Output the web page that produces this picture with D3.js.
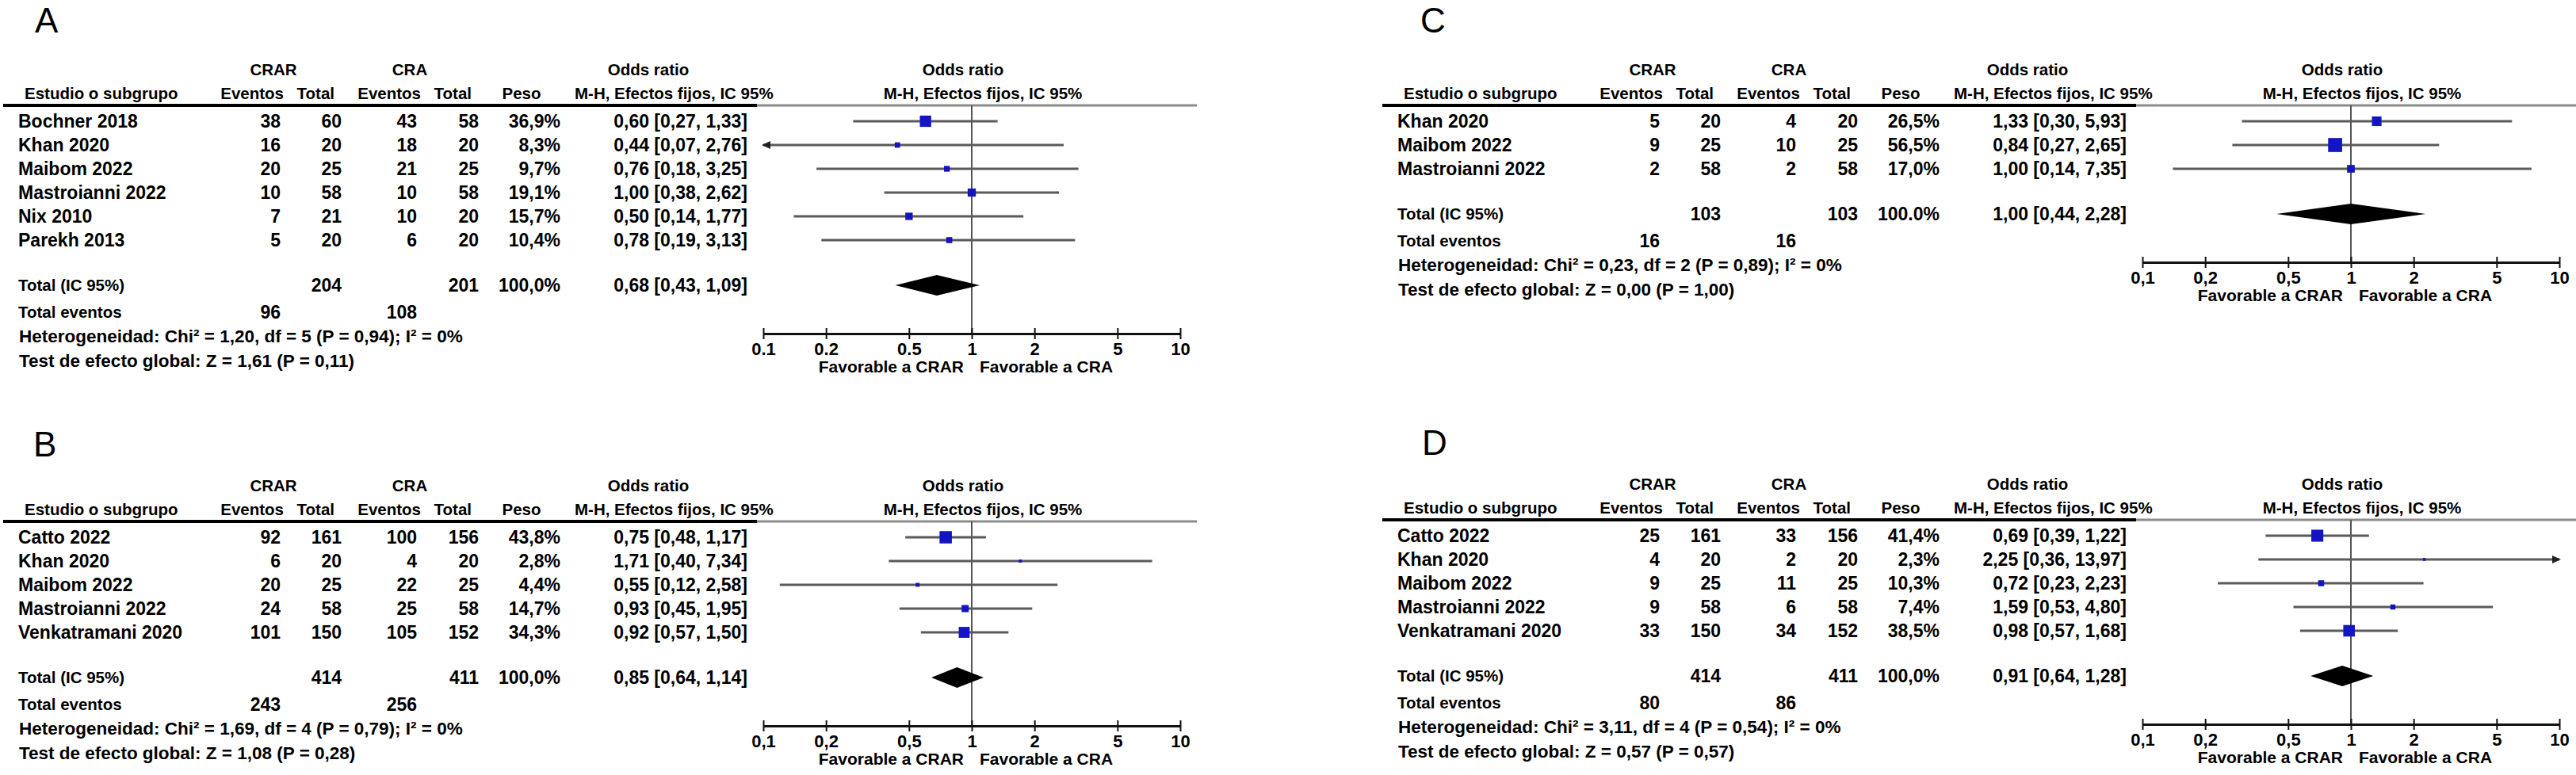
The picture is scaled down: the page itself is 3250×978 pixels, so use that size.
<!DOCTYPE html>
<html>
<head>
<meta charset="utf-8">
<title>Forest plots CRAR vs CRA</title>
<script src="https://cdn.jsdelivr.net/npm/d3@7"></script>
<style>
  body { margin: 0; background: #fff; }
  svg text { font-family: "Liberation Sans", Arial, sans-serif; font-weight: bold; fill: #000; }
</style>
</head>
<body>
<script>
// shared axis
var tickValues = [0.1, 0.2, 0.5, 1, 2, 5, 10];
var tickLabelsDot = ["0.1", "0.2", "0.5", "1", "2", "5", "10"];
var tickLabelsComma = ["0,1", "0,2", "0,5", "1", "2", "5", "10"];

// A
var studiesA = ["Bochner 2018", "Khan 2020", "Maibom 2022", "Mastroianni 2022", "Nix 2010", "Parekh 2013"];
var crarEvA = [38, 16, 20, 10, 7, 5];
var crarTotA = [60, 20, 25, 58, 21, 20];
var craEvA = [43, 18, 21, 10, 10, 6];
var craTotA = [58, 20, 25, 58, 20, 20];
var pesoA = [36.9, 8.3, 9.7, 19.1, 15.7, 10.4];
var orA = [0.60, 0.44, 0.76, 1.00, 0.50, 0.78];
var loA = [0.27, 0.07, 0.18, 0.38, 0.14, 0.19];
var hiA = [1.33, 2.76, 3.25, 2.62, 1.77, 3.13];
var totalsA = [204, 201];
var totEvA = [96, 108];
var pooledA = [0.68, 0.43, 1.09];
var hetA = "Heterogeneidad: Chi² = 1,20, df = 5 (P = 0,94); I² = 0%";
var testA = "Test de efecto global: Z = 1,61 (P = 0,11)";

// B
var studiesB = ["Catto 2022", "Khan 2020", "Maibom 2022", "Mastroianni 2022", "Venkatramani 2020"];
var crarEvB = [92, 6, 20, 24, 101];
var crarTotB = [161, 20, 25, 58, 150];
var craEvB = [100, 4, 22, 25, 105];
var craTotB = [156, 20, 25, 58, 152];
var pesoB = [43.8, 2.8, 4.4, 14.7, 34.3];
var orB = [0.75, 1.71, 0.55, 0.93, 0.92];
var loB = [0.48, 0.40, 0.12, 0.45, 0.57];
var hiB = [1.17, 7.34, 2.58, 1.95, 1.50];
var totalsB = [414, 411];
var totEvB = [243, 256];
var pooledB = [0.85, 0.64, 1.14];
var hetB = "Heterogeneidad: Chi² = 1,69, df = 4 (P = 0,79); I² = 0%";
var testB = "Test de efecto global: Z = 1,08 (P = 0,28)";

// C
var studiesC = ["Khan 2020", "Maibom 2022", "Mastroianni 2022"];
var crarEvC = [5, 9, 2];
var crarTotC = [20, 25, 58];
var craEvC = [4, 10, 2];
var craTotC = [20, 25, 58];
var pesoC = [26.5, 56.5, 17.0];
var orC = [1.33, 0.84, 1.00];
var loC = [0.30, 0.27, 0.14];
var hiC = [5.93, 2.65, 7.35];
var totalsC = [103, 103];
var totEvC = [16, 16];
var pooledC = [1.00, 0.44, 2.28];
var hetC = "Heterogeneidad:  Chi² = 0,23, df = 2 (P = 0,89); I² = 0%";
var testC = "Test de efecto global:  Z = 0,00 (P = 1,00)";

// D
var studiesD = ["Catto 2022", "Khan 2020", "Maibom 2022", "Mastroianni 2022", "Venkatramani 2020"];
var crarEvD = [25, 4, 9, 9, 33];
var crarTotD = [161, 20, 25, 58, 150];
var craEvD = [33, 2, 11, 6, 34];
var craTotD = [156, 20, 25, 58, 152];
var pesoD = [41.4, 2.3, 10.3, 7.4, 38.5];
var orD = [0.69, 2.25, 0.72, 1.59, 0.98];
var loD = [0.39, 0.36, 0.23, 0.53, 0.57];
var hiD = [1.22, 13.97, 2.23, 4.80, 1.68];
var totalsD = [414, 411];
var totEvD = [80, 86];
var pooledD = [0.91, 0.64, 1.28];
var hetD = "Heterogeneidad: Chi² = 3,11, df = 4 (P = 0,54); I² = 0%";
var testD = "Test de efecto global:  Z = 0,57 (P = 0,57)";

var width = 3250, height = 978;

var svg = d3.select("body").append("svg")
    .attr("width", width).attr("height", height);
svg.append("rect").attr("width", width).attr("height", height).attr("fill", "#fff");

var f2 = function(v){ return d3.format(".2f")(v).replace(".", ","); };
var f1 = function(v){ return d3.format(".1f")(v).replace(".", ","); };
var ci = function(o, l, h){ return f2(o) + " [" + f2(l) + ", " + f2(h) + "]"; };

var panels = [
    {id: "A", studies: studiesA, crarEv: crarEvA, crarTot: crarTotA, craEv: craEvA, craTot: craTotA,
     peso: pesoA, or: orA, lo: loA, hi: hiA, totals: totalsA, totEv: totEvA, pooled: pooledA,
     het: hetA, test: testA, ticks: tickLabelsDot, totPeso: "100,0%",
     ox: 0, hy: 133, lx: 44, ly: 41},
    {id: "B", studies: studiesB, crarEv: crarEvB, crarTot: crarTotB, craEv: craEvB, craTot: craTotB,
     peso: pesoB, or: orB, lo: loB, hi: hiB, totals: totalsB, totEv: totEvB, pooled: pooledB,
     het: hetB, test: testB, ticks: tickLabelsComma, totPeso: "100,0%",
     ox: 0, hy: 658, lx: 42, ly: 576},
    {id: "C", studies: studiesC, crarEv: crarEvC, crarTot: crarTotC, craEv: craEvC, craTot: craTotC,
     peso: pesoC, or: orC, lo: loC, hi: hiC, totals: totalsC, totEv: totEvC, pooled: pooledC,
     het: hetC, test: testC, ticks: tickLabelsComma, totPeso: "100.0%",
     ox: 1740, hy: 133, lx: 1792, ly: 41},
    {id: "D", studies: studiesD, crarEv: crarEvD, crarTot: crarTotD, craEv: craEvD, craTot: craTotD,
     peso: pesoD, or: orD, lo: loD, hi: hiD, totals: totalsD, totEv: totEvD, pooled: pooledD,
     het: hetD, test: testD, ticks: tickLabelsComma, totPeso: "100,0%",
     ox: 1740, hy: 656, lx: 1794, ly: 574}
];

panels.forEach(drawPanel);

function txt(g, x, y, s, anchor, size){
    return g.append("text")
        .attr("x", x).attr("y", y)
        .attr("dy", "0.35em")
        .attr("text-anchor", anchor || "start")
        .style("font-size", (size || 23) + "px")
        .text(s);
}

function drawPanel(p){
    // panel letter
    svg.append("text")
        .attr("x", p.lx).attr("y", p.ly)
        .style("font-weight", "normal")
        .style("font-size", "44px")
        .text(p.id);

    var g = svg.append("g").attr("transform", "translate(" + p.ox + "," + p.hy + ")");
    var x = d3.scaleLog().domain([0.1, 10]).range([963, 1489]);
    var n = p.studies.length;
    var rowY = function(i){ return 20 + i * 30; };
    var yTot = rowY(n - 1) + 57;
    var yAxis = yTot + 61;

    // headers
    txt(g, 345, -45, "CRAR", "middle", 20.5);
    txt(g, 517, -45, "CRA", "middle", 20.5);
    txt(g, 818, -45, "Odds ratio", "middle", 20.5);
    txt(g, 1215, -45, "Odds ratio", "middle", 20.5);
    txt(g, 31, -15, "Estudio o subgrupo", "start", 20.5);
    txt(g, 358, -15, "Eventos", "end", 20.5);
    txt(g, 422, -15, "Total", "end", 20.5);
    txt(g, 531, -15, "Eventos", "end", 20.5);
    txt(g, 595, -15, "Total", "end", 20.5);
    txt(g, 658, -15, "Peso", "middle", 20.5);
    txt(g, 725, -15, "M-H, Efectos fijos, IC 95%", "start", 20.5);
    txt(g, 1240, -15, "M-H, Efectos fijos, IC 95%", "middle", 20.5);

    g.append("line").attr("x1", 4).attr("x2", 955).attr("y1", 0).attr("y2", 0)
        .attr("stroke", "#000").attr("stroke-width", 4);
    g.append("line").attr("x1", 955).attr("x2", 1510).attr("y1", 0).attr("y2", 0)
        .attr("stroke", "#8c8c8c").attr("stroke-width", 3);

    // line of no effect
    g.append("line").attr("x1", x(1)).attr("x2", x(1)).attr("y1", 0).attr("y2", yAxis)
        .attr("stroke", "#555").attr("stroke-width", 2);

    // study rows
    p.studies.forEach(function(s, i){
        var y = rowY(i);
        txt(g, 23, y, s);
        txt(g, 354, y, p.crarEv[i], "end");
        txt(g, 431, y, p.crarTot[i], "end");
        txt(g, 526, y, p.craEv[i], "end");
        txt(g, 604, y, p.craTot[i], "end");
        txt(g, 707, y, f1(p.peso[i]) + "%", "end");
        txt(g, 943, y, ci(p.or[i], p.lo[i], p.hi[i]), "end");

        var lo = Math.max(p.lo[i], 0.1), hi = Math.min(p.hi[i], 10);
        g.append("line").attr("x1", x(lo)).attr("x2", x(hi)).attr("y1", y).attr("y2", y)
            .attr("stroke", "#5a5a5a").attr("stroke-width", 3);
        if (p.lo[i] < 0.1) {
            g.append("path").attr("d", d3.line()([[x(0.1) - 2, y], [x(0.1) + 9, y - 5], [x(0.1) + 9, y + 5]]) + "Z")
                .attr("fill", "#222");
        }
        if (p.hi[i] > 10) {
            g.append("path").attr("d", d3.line()([[x(10) + 2, y], [x(10) - 9, y - 5], [x(10) - 9, y + 5]]) + "Z")
                .attr("fill", "#222");
        }
        var sz = 2.35 * Math.sqrt(p.peso[i]);
        g.append("rect").attr("x", x(p.or[i]) - sz / 2).attr("y", y - sz / 2)
            .attr("width", sz).attr("height", sz).attr("fill", "#1414c4");
    });

    // totals
    txt(g, 23, yTot, "Total (IC 95%)", "start", 20.5);
    txt(g, 431, yTot, p.totals[0], "end");
    txt(g, 604, yTot, p.totals[1], "end");
    txt(g, 707, yTot, p.totPeso, "end");
    txt(g, 943, yTot, ci(p.pooled[0], p.pooled[1], p.pooled[2]), "end");
    txt(g, 23, yTot + 34, "Total eventos", "start", 20.5);
    txt(g, 354, yTot + 34, p.totEv[0], "end");
    txt(g, 526, yTot + 34, p.totEv[1], "end");
    txt(g, 24, yTot + 64, p.het, "start", 22.5);
    txt(g, 24, yTot + 95, p.test, "start", 22.5);

    g.append("path")
        .attr("d", d3.line()([[x(p.pooled[1]), yTot], [x(p.pooled[0]), yTot - 13],
                              [x(p.pooled[2]), yTot], [x(p.pooled[0]), yTot + 13]]) + "Z")
        .attr("fill", "#000");

    // axis
    var ax = g.append("g").attr("transform", "translate(0," + yAxis + ")")
        .call(d3.axisBottom(x).tickValues(tickValues)
            .tickFormat(function(d, i){ return p.ticks[i]; })
            .tickSize(7).tickSizeOuter(0));
    ax.select(".domain").attr("stroke", "#111").attr("stroke-width", 3);
    ax.selectAll(".tick line").attr("y1", -7).attr("y2", 7).attr("stroke", "#111").attr("stroke-width", 2);
    ax.selectAll(".tick text").attr("y", 19).attr("dy", "0.35em").style("font-size", "22px");

    txt(g, x(1) - 10, yAxis + 42, "Favorable a CRAR", "end", 21);
    txt(g, x(1) + 10, yAxis + 42, "Favorable a CRA", "start", 21);
}
</script>
</body>
</html>
